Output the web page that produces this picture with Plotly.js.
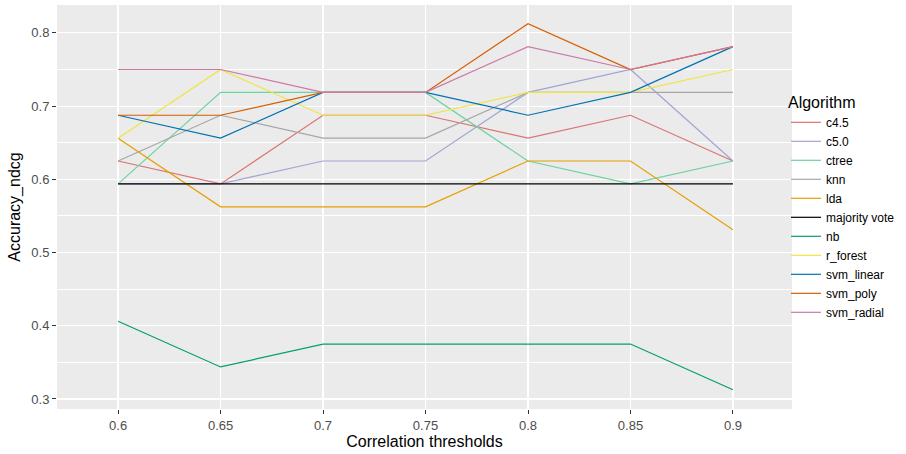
<!DOCTYPE html>
<html>
<head>
<meta charset="utf-8">
<script src="https://cdn.plot.ly/plotly-3.0.1.min.js"></script>
<style>html,body{margin:0;padding:0;background:#fff}#chart{width:906px;height:454px}</style>
</head>
<body>
<div id="chart"></div>
<script>
const thresholds = [0.6, 0.65, 0.7, 0.75, 0.8, 0.85, 0.9];
const algorithms = ["c4.5", "c5.0", "ctree", "knn", "lda", "majority vote", "nb", "r_forest", "svm_linear", "svm_poly", "svm_radial"];
const c45        = [0.625, 0.59375, 0.6875, 0.6875, 0.65625, 0.6875, 0.625];
const c50        = [0.59375, 0.59375, 0.625, 0.625, 0.71875, 0.75, 0.625];
const ctree      = [0.59375, 0.71875, 0.71875, 0.71875, 0.625, 0.59375, 0.625];
const knn        = [0.625, 0.6875, 0.65625, 0.65625, 0.71875, 0.71875, 0.71875];
const lda        = [0.65625, 0.5625, 0.5625, 0.5625, 0.625, 0.625, 0.53125];
const majority   = [0.59375, 0.59375, 0.59375, 0.59375, 0.59375, 0.59375, 0.59375];
const nb         = [0.40625, 0.34375, 0.375, 0.375, 0.375, 0.375, 0.3125];
const rForest    = [0.65625, 0.75, 0.6875, 0.6875, 0.71875, 0.71875, 0.75];
const svmLinear  = [0.6875, 0.65625, 0.71875, 0.71875, 0.6875, 0.71875, 0.78125];
const svmPoly    = [0.6875, 0.6875, 0.71875, 0.71875, 0.8125, 0.75, 0.78125];
const svmRadial  = [0.75, 0.75, 0.71875, 0.71875, 0.78125, 0.75, 0.78125];
const seriesValues = [c45, c50, ctree, knn, lda, majority, nb, rForest, svmLinear, svmPoly, svmRadial];
const colors = ["#DA7371", "#A3A3D6", "#6CD29E", "#A6A6A6", "#E69F00", "#000000", "#009E73", "#F0E442", "#0072B2", "#D55E00", "#CC79A7"];

const traces = algorithms.map((name, i) => ({
  type: "scatter",
  mode: "lines",
  name: name,
  x: thresholds,
  y: seriesValues[i],
  line: {color: colors[i], width: 1.2}
}));

const layout = {
  width: 906, height: 454,
  margin: {l: 57, r: 114, t: 5, b: 45, autoexpand: false},
  paper_bgcolor: "#ffffff",
  plot_bgcolor: "#EBEBEB",
  font: {family: "Liberation Sans, Arial, sans-serif", color: "#4D4D4D", size: 13},
  showlegend: true,
  legend: {
    x: 0.9918, xanchor: "left", y: 0.5, yanchor: "middle",
    title: {text: "Algorithm", font: {size: 16, color: "#000000"}},
    font: {size: 12, color: "#000000"},
    bgcolor: "rgba(0,0,0,0)",
    tracegroupgap: 0,
    itemwidth: 30
  },
  xaxis: {
    range: [0.5702, 0.9288],
    tickvals: thresholds,
    ticktext: ["0.6", "0.65", "0.7", "0.75", "0.8", "0.85", "0.9"],
    showgrid: true, gridcolor: "#FFFFFF", gridwidth: 1.2,
    zeroline: false, showline: false,
    ticks: "outside", ticklen: 4, tickcolor: "#333333", tickwidth: 1,
    tickfont: {size: 13, color: "#4D4D4D"},
    title: {text: "Correlation thresholds", font: {size: 16, color: "#000000"}, standoff: 4}
  },
  yaxis: {
    range: [0.2863, 0.8381],
    dtick: 0.1, tick0: 0.3,
    tickformat: ".1f",
    showgrid: true, gridcolor: "#FFFFFF", gridwidth: 1.2,
    minor: {dtick: 0.05, tick0: 0.3, showgrid: true, gridcolor: "#FFFFFF", gridwidth: 1},
    zeroline: false, showline: false,
    ticks: "outside", ticklen: 4, tickcolor: "#333333", tickwidth: 1,
    tickfont: {size: 13, color: "#4D4D4D"},
    title: {text: "Accuracy_ndcg", font: {size: 16, color: "#000000"}, standoff: 6}
  }
};

Plotly.newPlot("chart", traces, layout, {displayModeBar: false, staticPlot: true});
</script>
</body>
</html>
